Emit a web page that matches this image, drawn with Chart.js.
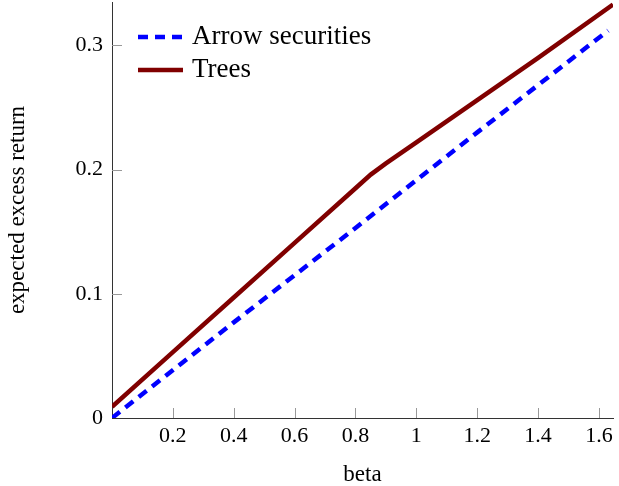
<!DOCTYPE html>
<html>
<head>
<meta charset="utf-8">
<script src="https://cdn.jsdelivr.net/npm/chart.js@4.4.1/dist/chart.umd.min.js"></script>
<style>
  html, body { margin: 0; padding: 0; background: #fff; }
  #wrap { width: 619px; height: 486px; }
</style>
</head>
<body>
<div id="wrap"><canvas id="chart" width="619" height="486"></canvas></div>
<script>
// Expected excess return against beta, two pricing approaches.
const arrowBeta = [0, 0.4, 0.8, 1.2, 1.63]
const arrowReturn = [0, 0.077, 0.153, 0.23, 0.312]

const treesBeta = [0, 0.2, 0.4, 0.6, 0.8, 0.85, 0.9, 1.0, 1.2, 1.4, 1.646]
const treesReturn = [0.009, 0.053, 0.097, 0.141, 0.185, 0.196, 0.205, 0.222, 0.256, 0.290, 0.333]

const xTicks = [0.2, 0.4, 0.6, 0.8, 1, 1.2, 1.4, 1.6]
const yTicks = [0, 0.1, 0.2, 0.3]

const serif = "'Liberation Serif', 'DejaVu Serif', serif"
const toPoints = (xs, ys) => xs.map((x, i) => ({ x, y: ys[i] }))
const tickText = v => String(+Number(v).toFixed(2))

// legend sits inside the plot, top left, no frame
const insideLegend = {
  id: "insideLegend",
  afterDraw (chart) {
    const { ctx } = chart
    ctx.save()
    chart.data.datasets.forEach((ds, i) => {
      const y = 37 + i * 33
      ctx.beginPath()
      ctx.strokeStyle = ds.borderColor
      ctx.lineWidth = ds.borderWidth
      ctx.setLineDash(ds.borderDash || [])
      ctx.moveTo(138, y)
      ctx.lineTo(183, y)
      ctx.stroke()
      ctx.setLineDash([])
      ctx.fillStyle = "#000"
      ctx.font = `27px ${serif}`
      ctx.textBaseline = "alphabetic"
      ctx.fillText(ds.label, 192, y + 7)
    })
    ctx.restore()
  }
}

// pgfplots style tick marks pointing into the plot
const innerTicks = {
  id: "innerTicks",
  beforeDatasetsDraw (chart) {
    const { ctx, chartArea, scales } = chart
    ctx.save()
    ctx.strokeStyle = "#999"
    ctx.lineWidth = 1
    ctx.beginPath()
    xTicks.forEach(v => {
      const px = Math.round(scales.x.getPixelForValue(v)) + 0.5
      ctx.moveTo(px, chartArea.bottom)
      ctx.lineTo(px, chartArea.bottom - 10)
    })
    yTicks.forEach(v => {
      if (v === 0) return
      const py = Math.round(scales.y.getPixelForValue(v)) + 0.5
      ctx.moveTo(chartArea.left, py)
      ctx.lineTo(chartArea.left + 10, py)
    })
    ctx.stroke()
    ctx.restore()
  }
}

new Chart(document.getElementById("chart").getContext("2d"), {
  type: "line",
  data: {
    datasets: [
      {
        label: "Arrow securities",
        data: toPoints(arrowBeta, arrowReturn),
        borderColor: "#0000ff",
        borderWidth: 4.5,
        borderDash: [10, 7],
        borderCapStyle: "butt",
        pointRadius: 0,
        tension: 0,
        clip: 0
      },
      {
        label: "Trees",
        data: toPoints(treesBeta, treesReturn),
        borderColor: "#800000",
        borderWidth: 4.5,
        pointRadius: 0,
        tension: 0,
        clip: 0
      }
    ]
  },
  plugins: [innerTicks, insideLegend],
  options: {
    responsive: false,
    animation: false,
    layout: { padding: { top: 2, right: 6, left: 0, bottom: 0 } },
    plugins: {
      legend: { display: false },
      tooltip: { enabled: false }
    },
    scales: {
      x: {
        type: "linear",
        min: 0,
        max: 1.646,
        afterFit: scale => {
          scale.height = 68
          scale.paddingLeft = 0
          scale.paddingRight = 0
        },
        grid: { display: false, drawTicks: false },
        border: { display: true, color: "#333", width: 1 },
        ticks: {
          stepSize: 0.2,
          includeBounds: false,
          padding: 5,
          color: "#000",
          font: { family: serif, size: 22 },
          maxRotation: 0,
          callback: v => (v === 0 ? "" : tickText(v))
        },
        title: {
          display: true,
          text: "beta",
          color: "#000",
          font: { family: serif, size: 23, lineHeight: 1 },
          padding: { top: 0, bottom: 0 }
        }
      },
      y: {
        type: "linear",
        min: 0,
        max: 0.335,
        afterFit: scale => {
          scale.width = 112
          scale.paddingTop = 0
          scale.paddingBottom = 0
        },
        grid: { display: false, drawTicks: false },
        border: { display: true, color: "#333", width: 1 },
        ticks: {
          stepSize: 0.1,
          includeBounds: false,
          padding: 9,
          color: "#000",
          font: { family: serif, size: 22 },
          callback: v => tickText(v)
        },
        title: {
          display: true,
          text: "expected excess return",
          color: "#000",
          font: { family: serif, size: 23, lineHeight: 1 },
          padding: { top: 6, bottom: 0 }
        }
      }
    }
  }
})
</script>
</body>
</html>
